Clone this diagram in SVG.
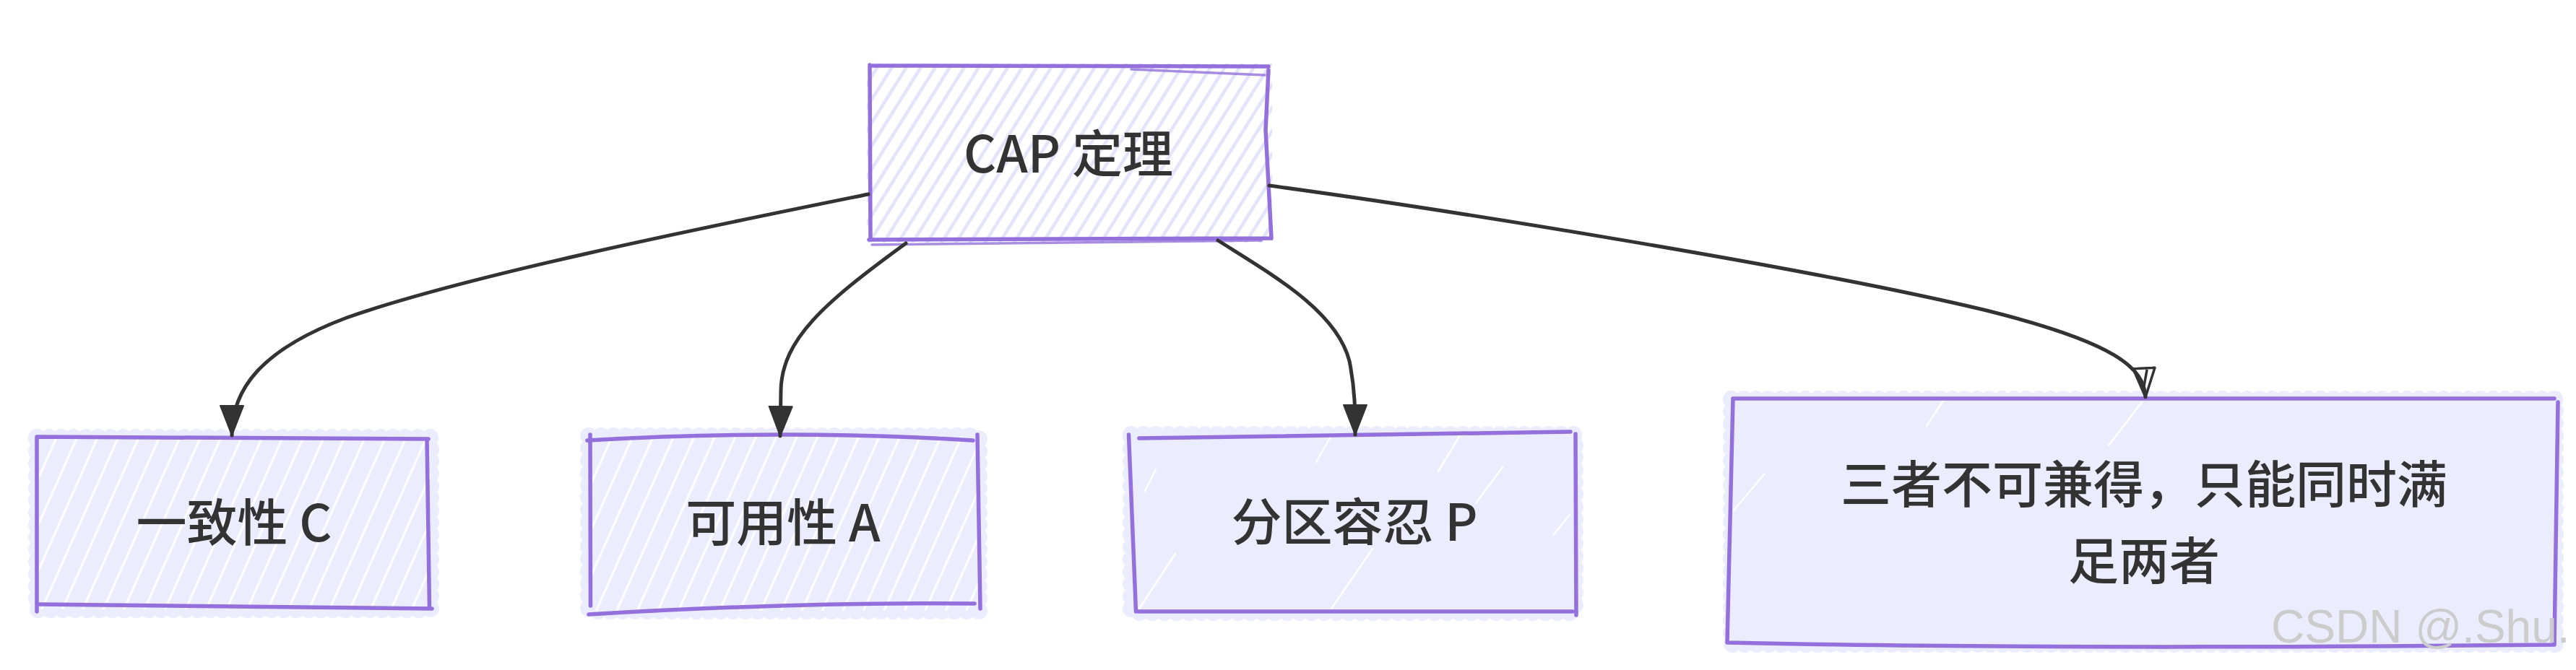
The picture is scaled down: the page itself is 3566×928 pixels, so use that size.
<svg xmlns="http://www.w3.org/2000/svg" width="3566" height="928" viewBox="0 0 3566 928">
<defs>
<style>
.bd{fill:none;stroke:#9370DB;stroke-width:5.5;stroke-linecap:round;stroke-linejoin:round}
.bd2{fill:none;stroke:#9370DB;stroke-width:3.5;stroke-linecap:round;opacity:.8}
.bg{fill:#ECECFF;stroke:#ECECFF;stroke-width:12;stroke-linejoin:round}
.bump{fill:none;stroke:#ECECFF;stroke-width:24;stroke-dasharray:0 17;stroke-linecap:round}
.st{fill:none;stroke:#fff;stroke-width:2.5;stroke-linecap:round}
.lbl{font-family:"Noto Sans CJK SC","Noto Sans",sans-serif;font-size:70px;font-weight:500;fill:#333;text-anchor:middle}
.edge{fill:none;stroke:#333;stroke-width:5;stroke-linecap:round}
</style>
<pattern id="hatch" patternUnits="userSpaceOnUse" width="17" height="17" patternTransform="rotate(32)">
<line x1="8.5" y1="0" x2="8.5" y2="17" stroke="#E3E3FA" stroke-width="4.5"/>
</pattern>
<pattern id="streak" patternUnits="userSpaceOnUse" width="26" height="26" patternTransform="rotate(24)">
<rect width="26" height="26" fill="#ECECFF"/>
<line x1="6" y1="0" x2="6" y2="26" stroke="#fff" stroke-width="3"/>
</pattern>
<marker id="ah" markerUnits="userSpaceOnUse" viewBox="0 0 44 36" refX="42" refY="18" markerWidth="44" markerHeight="36" orient="auto">
<path d="M1,2 L42,18 L1,34 Z" fill="#333" stroke="#333" stroke-width="2" stroke-linejoin="round"/>
</marker>
<marker id="ahOpen" markerUnits="userSpaceOnUse" viewBox="0 0 44 36" refX="42" refY="18" markerWidth="44" markerHeight="36" orient="auto">
<path d="M2,3 L42,18 L2,33 Z M4,14 L30,20" fill="none" stroke="#333" stroke-width="3.5" stroke-linejoin="round"/>
</marker>
</defs>
<rect width="3566" height="928" fill="#fff"/>

<g id="node-cap">
<rect x="1200" y="88" width="561" height="248" fill="url(#hatch)"/>
<path class="bd" d="M1204,91 L1756,92 M1204,90 L1205,332 M1756,97 L1752,180 L1760,330 M1203,332 L1760,330"/>
<path class="bd2" d="M1566,96 L1751,104 M1207,339 L1746,333"/>
<text class="lbl" x="1479" y="239">CAP 定理</text>
</g>

<g id="node-c">
<rect class="bg" x="51" y="606" width="545" height="238"/>
<rect class="bump" x="51" y="606" width="545" height="238"/>
<rect x="51" y="606" width="545" height="238" fill="url(#streak)"/>
<path class="bd" d="M51,605 L593,608 M51,607 L51,847 M591,608 L594.5,843 M55,837 L598,843"/>
<text class="lbl" x="324" y="750">一致性 C</text>
</g>

<g id="node-a">
<rect class="bg" x="815" y="604" width="540" height="242"/>
<rect class="bump" x="815" y="604" width="540" height="242"/>
<rect x="815" y="604" width="540" height="242" fill="url(#streak)"/>
<path class="bd" d="M813,610 Q1088,594 1347,610 M817,602 L817.5,839 M1353,602 L1357,843 M815,851 Q1096,834 1349,836"/>
<text class="lbl" x="1084" y="750">可用性 A</text>
</g>

<g id="node-p">
<rect class="bg" x="1566" y="602" width="614" height="246"/>
<rect class="bump" x="1566" y="602" width="614" height="246"/>
<path class="st" d="M1822,640 L1843,603 M1991,653 L2021,603 M2043,697 L2080,647 M1843,843 L1900,760 M1577,843 L1627,767 M2151,740 L2173,713 M1585,680 L1600,650"/>
<path class="bd" d="M1577,607 L2174,598 M1562.5,602 L1572.5,847 M2181,601 L2182,852 M1575,847 L2177,847"/>
<text class="lbl" x="1875" y="749">分区容忍 P</text>
</g>

<g id="node-note">
<rect class="bg" x="2397" y="553" width="1140" height="339"/>
<rect class="bump" x="2397" y="553" width="1140" height="339"/>
<path class="st" d="M2667,590 L2690,555 M2919,617 L2965,557 M2400,707 L2442,657"/>
<path class="bd" d="M2400,552 L3536,552 M2399,552 L2391,890 M3541,557 L3536,893 M2391,890 Q2828,900 3536,893"/>
<text class="lbl" x="2968" y="697">三者不可兼得，只能同时满</text>
<text class="lbl" x="2968" y="803">足两者</text>
</g>

<g id="connectors">
<path class="edge" stroke-width="6" marker-end="url(#ah)" d="M1202,269 C1000,310 650,380 480,440 C360,485 321,540 321,603"/>
<path class="edge" marker-end="url(#ah)" d="M1254,337 C1140,420 1083,470 1081,540 L1080,604"/>
<path class="edge" marker-end="url(#ah)" d="M1686,333 C1760,380 1850,430 1868,500 C1876,540 1876,570 1876,602"/>
<path class="edge" marker-end="url(#ahOpen)" d="M1757,257 C2000,290 2500,370 2750,430 C2930,475 2968,510 2970,550"/>
</g>

<text x="3144" y="890" font-family="'Liberation Sans',Arial,sans-serif" font-size="64" fill="#cccccc">CSDN @.Shu.</text>
</svg>
